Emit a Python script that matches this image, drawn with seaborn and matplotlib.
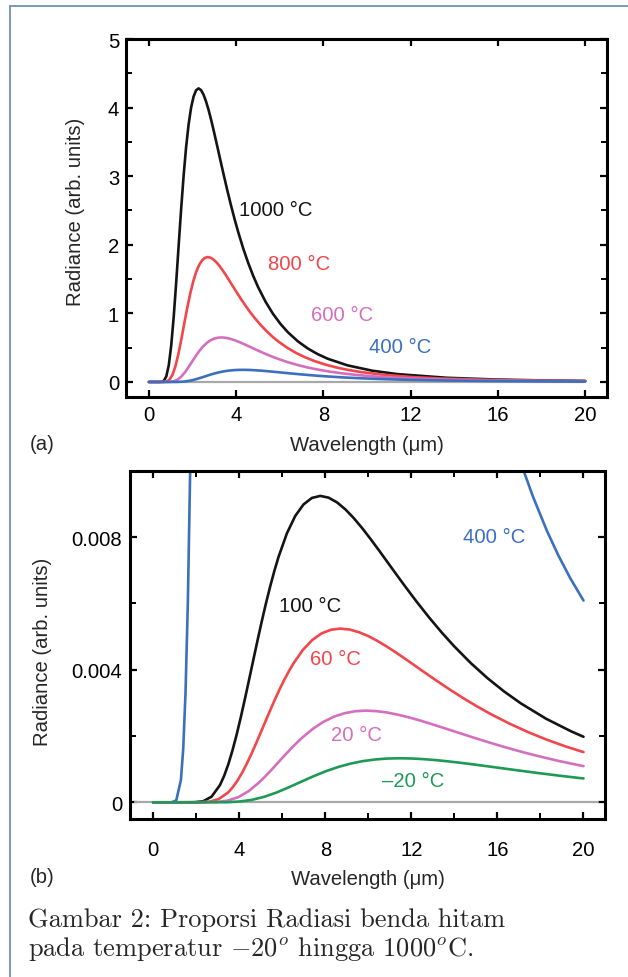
import matplotlib
matplotlib.use('Agg')

import matplotlib.pyplot as plt
from matplotlib.lines import Line2D
from matplotlib.ticker import MultipleLocator, FuncFormatter
import seaborn as sns

sns.set_theme(style='ticks')
plt.rcParams['font.family'] = ['Liberation Sans', 'DejaVu Sans']
plt.rcParams['mathtext.fontset'] = 'cm'

# ========== data ==========
# panel (a)
wl_1000 = [0, 0.455, 0.569, 0.683, 0.797, 0.911, 1.024, 1.138, 1.252, 1.366, 1.480, 1.594, 1.707,
           1.821, 1.935, 2.049, 2.163, 2.277, 2.390, 2.504, 2.618, 2.732, 2.846, 2.959, 3.073,
           3.187, 3.301, 3.415, 3.585, 3.756, 3.927, 4.098, 4.325, 4.553, 4.781, 5.008, 5.350,
           5.691, 6.033, 6.374, 6.830, 7.285, 7.740, 8.195, 9.106, 10.244, 11.383, 13.659,
           15.936, 18.212, 20]
rad_1000 = [0, 0.0000, 0.0015, 0.0163, 0.0801, 0.2418, 0.5329, 0.9489, 1.4531, 1.9958, 2.5286,
            3.0135, 3.4266, 3.7557, 3.9992, 4.1614, 4.2518, 4.28, 4.2552, 4.1897, 4.0919,
            3.9701, 3.8309, 3.6804, 3.5223, 3.3611, 3.1994, 3.0397, 2.8063, 2.5843, 2.3757,
            2.1815, 1.9455, 1.7347, 1.5474, 1.3816, 1.1687, 0.9921, 0.8455, 0.7237, 0.5921,
            0.4879, 0.4053, 0.3389, 0.2418, 0.1638, 0.1147, 0.0608, 0.0351, 0.0216, 0.0153]

wl_800 = [0, 0.540, 0.675, 0.810, 0.945, 1.080, 1.215, 1.350, 1.485, 1.620, 1.756, 1.891, 2.026,
          2.161, 2.296, 2.431, 2.566, 2.701, 2.836, 2.971, 3.106, 3.241, 3.376, 3.511, 3.646,
          3.781, 3.916, 4.051, 4.254, 4.456, 4.659, 4.861, 5.132, 5.402, 5.672, 5.942, 6.347,
          6.752, 7.157, 7.562, 8.102, 8.643, 9.183, 9.723, 10.803, 12.154, 13.504, 16.205,
          18.906, 20]
rad_800 = [0, 0.0000, 0.0006, 0.0069, 0.0341, 0.1029, 0.2267, 0.4037, 0.6182, 0.8491, 1.0758,
           1.2822, 1.4579, 1.5979, 1.7015, 1.7706, 1.8090, 1.821, 1.8104, 1.7826, 1.7410,
           1.6892, 1.6299, 1.5659, 1.4986, 1.4300, 1.3613, 1.2933, 1.1940, 1.0995, 1.0108,
           0.9282, 0.8278, 0.7381, 0.6584, 0.5878, 0.4972, 0.4221, 0.3597, 0.3079, 0.2519,
           0.2076, 0.1724, 0.1442, 0.1029, 0.0697, 0.0488, 0.0259, 0.0149, 0.0122]

wl_600 = [0, 0.664, 0.830, 0.996, 1.162, 1.328, 1.494, 1.660, 1.826, 1.992, 2.158, 2.324, 2.490,
          2.656, 2.822, 2.988, 3.154, 3.320, 3.486, 3.652, 3.818, 3.984, 4.150, 4.315, 4.481,
          4.647, 4.813, 4.979, 5.228, 5.477, 5.726, 5.975, 6.307, 6.639, 6.971, 7.303, 7.801,
          8.299, 8.797, 9.295, 9.959, 10.623, 11.287, 11.951, 13.278, 14.938, 16.598, 20]
rad_600 = [0, 0.0000, 0.0002, 0.0025, 0.0121, 0.0367, 0.0808, 0.1439, 0.2203, 0.3026, 0.3834,
           0.4570, 0.5196, 0.5695, 0.6064, 0.6310, 0.6447, 0.649, 0.6452, 0.6353, 0.6205,
           0.6020, 0.5809, 0.5581, 0.5341, 0.5097, 0.4852, 0.4609, 0.4255, 0.3919, 0.3602,
           0.3308, 0.2950, 0.2630, 0.2346, 0.2095, 0.1772, 0.1504, 0.1282, 0.1097, 0.0898,
           0.0740, 0.0615, 0.0514, 0.0367, 0.0248, 0.0174, 0.0091]

wl_400 = [0, 0.861, 1.077, 1.292, 1.3995, 1.507, 1.615, 1.722, 1.938, 2.153, 2.368, 2.584, 2.799,
          3.014, 3.230, 3.445, 3.660, 3.875, 4.091, 4.306, 4.521, 4.737, 4.952, 5.167, 5.383,
          5.598, 5.813, 6.029, 6.244, 6.459, 6.782, 7.105, 7.428, 7.751, 8.182, 8.612, 9.043,
          9.473, 10.119, 10.765, 11.411, 12.057, 12.918, 13.780, 14.641, 15.502, 16.363,
          16.794, 17.224, 17.655, 18.301, 18.839, 19.377, 20]
rad_400 = [0, 0.000001, 0.0000611, 0.000673, 0.001609, 0.003308, 0.006032, 0.009988, 0.02201,
           0.03920, 0.06002, 0.08244, 0.1045, 0.1245, 0.1415, 0.1551, 0.1652, 0.1719, 0.1756,
           0.1768, 0.17578, 0.1731, 0.16903, 0.1640, 0.15825, 0.1520, 0.14550, 0.1388,
           0.13216, 0.1256, 0.11592, 0.1068, 0.09813, 0.0901, 0.08037, 0.0717, 0.06392,
           0.0571, 0.04828, 0.0410, 0.03493, 0.0299, 0.02446, 0.02016, 0.01674, 0.01400,
           0.01179, 0.010842, 0.009988, 0.009213, 0.008186, 0.007436, 0.006768, 0.006086]

# panel (b)
wl_100 = [0, 1.554, 1.942, 2.331, 2.719, 3.108, 3.302, 3.496, 3.690, 3.885, 4.079, 4.273, 4.467,
          4.662, 4.856, 5.050, 5.244, 5.439, 5.633, 5.827, 6.216, 6.604, 6.992, 7.381, 7.769,
          8.158, 8.546, 8.935, 9.323, 9.712, 10.100, 10.489, 10.877, 11.266, 11.654, 12.237,
          12.820, 13.402, 13.985, 14.762, 15.539, 16.316, 17.093, 18.258, 19.424, 20]
rad_100 = [0, 0.0, 0.0000032, 0.0000352, 0.000173, 0.000522, 0.000800, 0.001150, 0.001570,
           0.002049, 0.002576, 0.003137, 0.003719, 0.004309, 0.004892, 0.005459, 0.005999,
           0.006506, 0.006973, 0.007398, 0.008108, 0.008634, 0.008984, 0.009179, 0.00924,
           0.009186, 0.009045, 0.008834, 0.008571, 0.008271, 0.007945, 0.007604, 0.007256,
           0.006907, 0.006562, 0.006058, 0.005579, 0.005129, 0.004710, 0.004200, 0.003745,
           0.003341, 0.002983, 0.002523, 0.002142, 0.001978]

wl_60 = [0, 2.176, 2.611, 3.046, 3.481, 3.699, 3.916, 4.134, 4.351, 4.569, 4.786, 5.004, 5.222,
         5.439, 5.657, 5.874, 6.092, 6.309, 6.527, 6.962, 7.397, 7.832, 8.268, 8.703, 9.138,
         9.573, 10.008, 10.443, 10.878, 11.314, 11.749, 12.184, 12.619, 13.054, 13.707, 14.359,
         15.012, 15.665, 16.535, 17.405, 18.276, 19.146, 20]
rad_60 = [0, 0.0000018, 0.00002, 0.000098, 0.000296, 0.000454, 0.000652, 0.000890, 0.001162,
          0.001461, 0.001779, 0.002109, 0.002443, 0.002774, 0.003096, 0.003402, 0.003689,
          0.003954, 0.004195, 0.004598, 0.004896, 0.005095, 0.005205, 0.00524, 0.005210,
          0.005129, 0.005010, 0.004861, 0.004690, 0.004506, 0.004312, 0.004115, 0.003917,
          0.003721, 0.003436, 0.003164, 0.002909, 0.002671, 0.002382, 0.002124, 0.001894,
          0.001691, 0.001516]

wl_20 = [0, 2.967, 3.462, 3.956, 4.451, 4.945, 5.193, 5.440, 5.687, 5.934, 6.182, 6.429, 6.676,
         6.924, 7.418, 7.913, 8.407, 8.902, 9.396, 9.891, 10.385, 10.880, 11.374, 11.869,
         12.364, 12.858, 13.353, 13.847, 14.342, 14.836, 15.578, 16.320, 17.062, 17.803,
         18.793, 19.782, 20]
rad_20 = [0, 0.0000105, 0.0000518, 0.000156, 0.000344, 0.000613, 0.000771, 0.000939, 0.001113,
          0.001290, 0.001465, 0.001634, 0.001796, 0.001948, 0.002214, 0.002427, 0.002585,
          0.002689, 0.002748, 0.002766, 0.002750, 0.002708, 0.002644, 0.002566, 0.002476,
          0.002378, 0.002276, 0.002172, 0.002068, 0.001964, 0.001814, 0.001670, 0.001535,
          0.001410, 0.001257, 0.001121, 0.001093]

wl_m20 = [0, 3.436, 4.009, 4.582, 5.155, 5.727, 6.300, 6.873, 7.445, 8.018, 8.591, 9.164, 9.736,
          10.309, 10.882, 11.455, 12.027, 12.600, 13.173, 13.745, 14.318, 14.891, 15.464,
          16.036, 16.609, 17.182, 18.041, 18.900, 19.759, 20]
rad_m20 = [0, 0.0000051, 0.0000249, 0.0000751, 0.0001656, 0.0002949, 0.0004515, 0.0006202,
           0.0007858, 0.0009365, 0.0010648, 0.0011671, 0.0012428, 0.0012932, 0.0013212, 0.00133,
           0.0013223, 0.0013019, 0.0012716, 0.0012337, 0.0011905, 0.0011437, 0.0010946,
           0.0010445, 0.0009942, 0.0009446, 0.0008720, 0.0008031, 0.0007382, 0.000721]

C_BLACK = '#141414'
C_RED = '#f2464b'
C_PINK = '#d46fbf'
C_BLUE = '#3b70bd'
C_GREEN = '#1f9a55'

curves_a = [(wl_1000, rad_1000, C_BLACK), (wl_800, rad_800, C_RED),
            (wl_600, rad_600, C_PINK), (wl_400, rad_400, C_BLUE)]
curves_b = [(wl_400, rad_400, C_BLUE), (wl_100, rad_100, C_BLACK), (wl_60, rad_60, C_RED),
            (wl_20, rad_20, C_PINK), (wl_m20, rad_m20, C_GREEN)]

labels_a = [('1000 °C', 4.15, 2.51, C_BLACK), ('800 °C', 5.45, 1.73, C_RED),
            ('600 °C', 7.43, 0.98, C_PINK), ('400 °C', 10.1, 0.52, C_BLUE)]
labels_b = [('100 °C', 5.83, 0.00594, C_BLACK), ('60 °C', 7.27, 0.00435, C_RED),
            ('20 °C', 8.27, 0.00206, C_PINK), ('\u201320 °C', 10.66, 0.00065, C_GREEN),
            ('400 °C', 14.41, 0.00802, C_BLUE)]

FS = 14.6

fig = plt.figure(figsize=(6.28, 9.78), dpi=100)
ax1 = fig.add_axes([0.2006, 0.5930, 0.766, 0.3661])
ax2 = fig.add_axes([0.2078, 0.1616, 0.7556, 0.3561])

for ax, curves, labels in [(ax1, curves_a, labels_a), (ax2, curves_b, labels_b)]:
    ax.axhline(0, color='#a8a8a8', linewidth=1.6, zorder=1,
               xmin=0.048 if ax is ax1 else 0.01, xmax=0.952 if ax is ax1 else 0.985)
    for wl, rad, col in curves:
        sns.lineplot(x=wl, y=rad, color=col, linewidth=1.9, estimator=None, sort=False, ax=ax)
    for txt, x, y, col in labels:
        ax.text(x, y, txt, color=col, fontsize=FS, ha='left', va='center')
    for side in ['left', 'right', 'top', 'bottom']:
        ax.spines[side].set_visible(True)
        ax.spines[side].set_linewidth(2.2)
        ax.spines[side].set_color('black')
    ax.set_xlim(-1.05, 21.0)
    ax.xaxis.set_major_locator(MultipleLocator(4))
    ax.tick_params(which='both', direction='in', top=True, right=True, color='black',
                   labelsize=FS, labelcolor='black')
    ax.tick_params(which='major', length=5, width=1.6)
    ax.tick_params(which='minor', length=4, width=1.4)
    ax.set_xlabel('Wavelength (μm)', fontsize=FS)
    ax.set_ylabel('Radiance (arb. units)', fontsize=FS)

ax1.set_ylim(-0.22, 5.0)
ax1.yaxis.set_major_locator(MultipleLocator(1))
ax1.yaxis.set_minor_locator(MultipleLocator(0.5))
ax1.tick_params(axis='x', pad=6)
ax1.tick_params(axis='y', pad=5)
ax1.xaxis.set_label_coords(0.5, -0.106)
ax1.yaxis.set_label_coords(-0.085, 0.52)

ax2.set_ylim(-0.0005, 0.010)
ax2.xaxis.set_minor_locator(MultipleLocator(2))
ax2.yaxis.set_major_locator(MultipleLocator(0.004))
ax2.yaxis.set_minor_locator(MultipleLocator(0.002))
ax2.yaxis.set_major_formatter(FuncFormatter(lambda v, p: '0' if abs(v) < 1e-9 else f'{v:.3f}'))
ax2.tick_params(axis='x', pad=15)
ax2.tick_params(axis='y', pad=6)
ax2.xaxis.set_label_coords(0.5, -0.1435)
ax2.yaxis.set_label_coords(-0.165, 0.483)

fig.text(30 / 628, 1 - 445 / 978, '(a)', fontsize=FS, ha='left', va='center')
fig.text(30 / 628, 1 - 878 / 978, '(b)', fontsize=FS, ha='left', va='center')

# caption
fig.text(28 / 628, 1 - 927 / 978, 'Gambar 2: Proporsi Radiasi benda hitam',
         fontsize=19, family='cmr10', ha='left', va='baseline')
fig.text(28 / 628, 1 - 956 / 978, r'pada temperatur $-20^o$ hingga 1000$^o$C.',
         fontsize=19, family='cmr10', ha='left', va='baseline')

# page frame
fig.add_artist(Line2D([9.5 / 628, 9.5 / 628], [0, 1 - 6.5 / 978], transform=fig.transFigure,
                      color='#7190b6', linewidth=1.3))
fig.add_artist(Line2D([9.5 / 628, 1], [1 - 6.5 / 978, 1 - 6.5 / 978], transform=fig.transFigure,
                      color='#7190b6', linewidth=1.3))

fig.savefig('out.png', dpi=100)
plt.close()
